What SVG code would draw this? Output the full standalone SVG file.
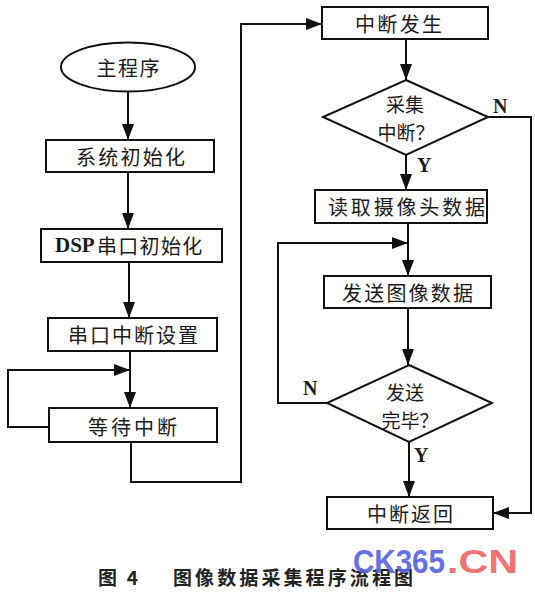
<svg xmlns="http://www.w3.org/2000/svg" width="535" height="596" viewBox="0 0 535 596">
<defs>
<marker id="ah" markerUnits="userSpaceOnUse" markerWidth="16" markerHeight="12" refX="16" refY="6" orient="auto">
<path d="M0,0 L16,6 L0,12 z" fill="#111"/>
</marker>
<style>
.shape{fill:#fff;stroke:#111;stroke-width:2}
.line{fill:none;stroke:#111;stroke-width:2}
.arr{marker-end:url(#ah)}
.t{font-family:"Noto Sans CJK SC","Noto Sans",sans-serif;font-size:20px;fill:#1a1a1a;dominant-baseline:central}
.d{font-size:19px}
.lbl{font-family:"Liberation Serif",serif;font-size:20px;font-weight:bold;fill:#1a1a1a}
.cap{font-family:"Noto Sans CJK SC","Noto Sans",sans-serif;font-size:19px;font-weight:bold;fill:#222}
.wm{font-family:"Liberation Sans",Arial,sans-serif;font-size:34px;font-weight:bold}
</style>
</defs>
<rect width="535" height="596" fill="#fff"/>

<g id="connectors">
<line class="line arr" x1="128" y1="92" x2="128" y2="140"/>
<line class="line arr" x1="128" y1="172" x2="128" y2="229"/>
<line class="line arr" x1="129" y1="262" x2="129" y2="318"/>
<line class="line arr" x1="130" y1="351" x2="130" y2="408"/>
<polyline class="line arr" points="49,427 8,427 8,370 130,370"/>
<polyline class="line arr" points="131,442 131,482 241,482 241,24 322,24"/>
<line class="line arr" x1="406" y1="39" x2="406" y2="80"/>
<line class="line arr" x1="406" y1="155" x2="406" y2="190"/>
<line class="line arr" x1="408" y1="223" x2="408" y2="276"/>
<polyline class="line arr" points="327,403 278,403 278,243 408,243"/>
<line class="line arr" x1="408" y1="308" x2="408" y2="365"/>
<line class="line arr" x1="409" y1="442" x2="409" y2="497"/>
<polyline class="line arr" points="488,117 531,117 531,513 493,513"/>
<text class="lbl" x="493" y="113">N</text>
<text class="lbl" x="417" y="172">Y</text>
<text class="lbl" x="303" y="395">N</text>
<text class="lbl" x="414" y="462">Y</text>
</g>

<g id="main">
<ellipse class="shape" cx="128" cy="67" rx="67" ry="24.5"/>
<text class="t" x="128" y="67" text-anchor="middle" textLength="63" lengthAdjust="spacing">主程序</text>
</g>
<g id="sysinit">
<rect class="shape" x="46" y="140" width="168" height="32"/>
<text class="t" x="76" y="156" textLength="109" lengthAdjust="spacing">系统初始化</text>
</g>
<g id="dspinit">
<rect class="shape" x="41" y="229" width="181" height="33"/>
<text class="t" y="245"><tspan x="55" style="font-family:'Liberation Serif',serif;font-weight:bold;font-size:21px">DSP</tspan><tspan x="97" letter-spacing="1.3">串口初始化</tspan></text>
</g>
<g id="uartint">
<rect class="shape" x="48" y="318" width="169" height="33"/>
<text class="t" x="68" y="334.5" textLength="130" lengthAdjust="spacing">串口中断设置</text>
</g>
<g id="wait">
<rect class="shape" x="49" y="408" width="168" height="34"/>
<text class="t" x="88" y="426" textLength="89" lengthAdjust="spacing">等待中断</text>
</g>

<g id="intoccur">
<rect class="shape" x="322" y="7" width="166" height="32"/>
<text class="t" x="355" y="23" textLength="87" lengthAdjust="spacing">中断发生</text>
</g>
<g id="capq">
<polygon class="shape" points="406,80 488,117 406,155 323,117"/>
<text class="t d" x="405" y="103" text-anchor="middle">采集</text>
<text class="t d" x="406" y="131" text-anchor="middle">中断？</text>
</g>
<g id="readcam">
<rect class="shape" x="315" y="190" width="172" height="33"/>
<text class="t" x="328" y="206.5" textLength="157" lengthAdjust="spacing">读取摄像头数据</text>
</g>
<g id="sendimg">
<rect class="shape" x="324" y="276" width="167" height="32"/>
<text class="t" x="342" y="292" textLength="131" lengthAdjust="spacing">发送图像数据</text>
</g>
<g id="sentq">
<polygon class="shape" points="409,365 492,403 409,442 327,403"/>
<text class="t d" x="405" y="391" text-anchor="middle">发送</text>
<text class="t d" x="410" y="419" text-anchor="middle">完毕？</text>
</g>
<g id="intret">
<rect class="shape" x="327" y="497" width="166" height="32"/>
<text class="t" x="367" y="513" textLength="86" lengthAdjust="spacing">中断返回</text>
</g>

<g id="caption">
<text class="cap" x="98" y="585" textLength="40" lengthAdjust="spacing">图 4</text>
<text class="cap" x="173" y="585" textLength="240" lengthAdjust="spacing">图像数据采集程序流程图</text>
</g>
<g id="watermark" opacity="0.92">
<text class="wm" x="353" y="573" fill="#5a66e2" textLength="92" lengthAdjust="spacingAndGlyphs">CK365</text>
<text class="wm" x="447" y="573" fill="#f06868" textLength="71" lengthAdjust="spacingAndGlyphs">.CN</text>
</g>
</svg>
